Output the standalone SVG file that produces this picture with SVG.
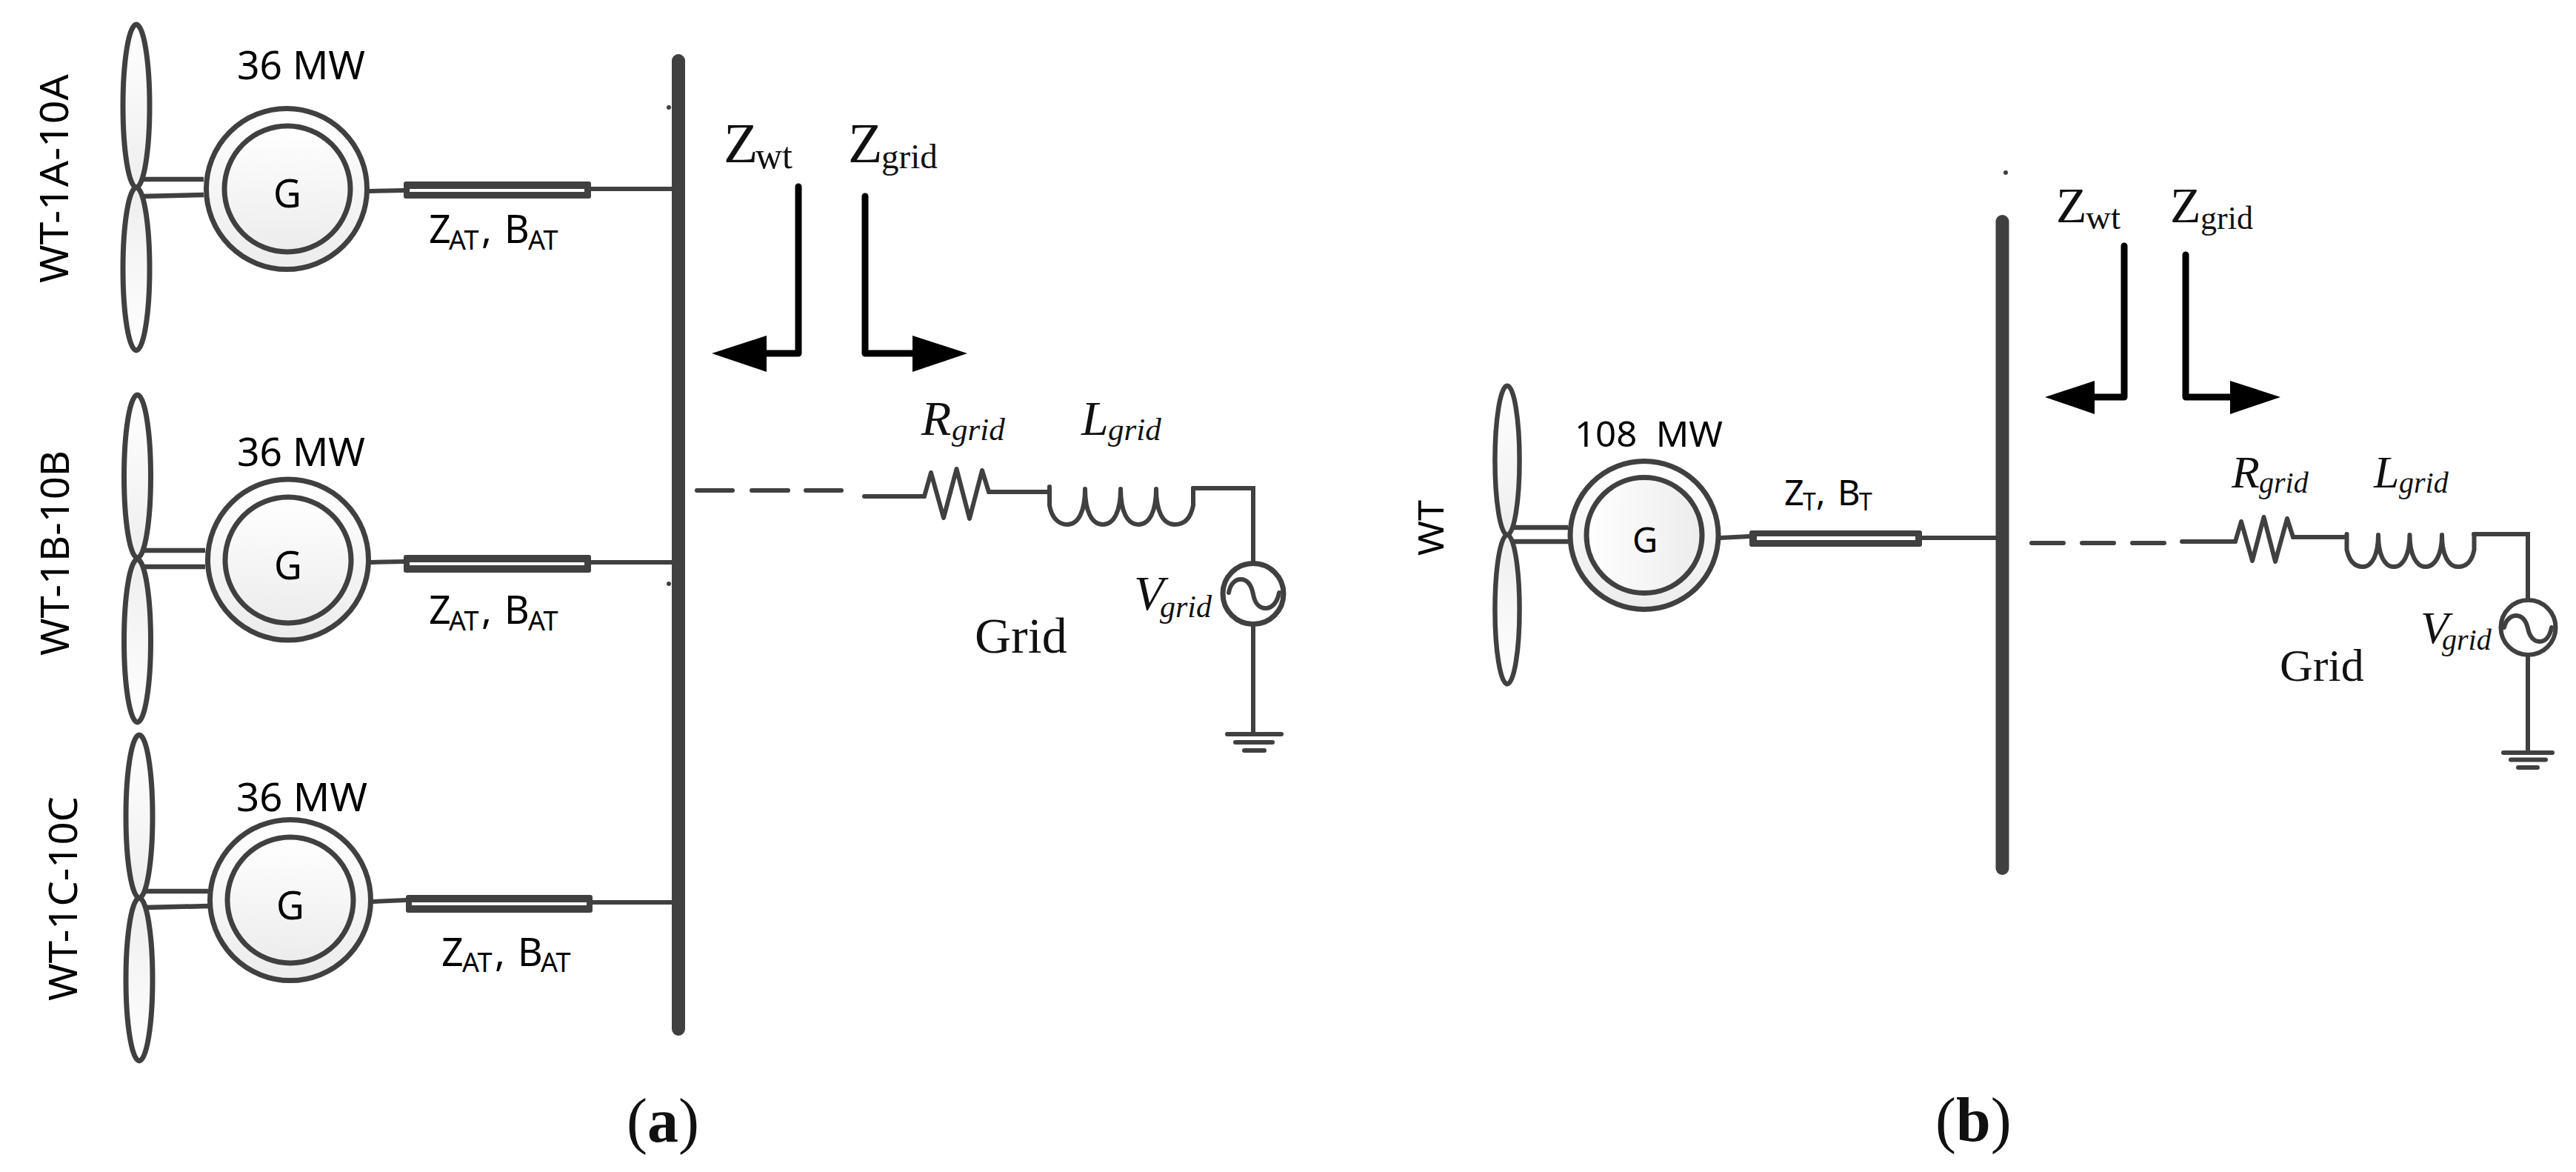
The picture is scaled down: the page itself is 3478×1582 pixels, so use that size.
<svg xmlns="http://www.w3.org/2000/svg" width="3478" height="1582" viewBox="0 0 3478 1582">
<style>
.s{fill:none;stroke:#404040;stroke-width:6;stroke-linejoin:round;stroke-linecap:round}
.d{fill:none;stroke:#404040;stroke-width:6;stroke-linecap:round}
.bus{fill:none;stroke:#404040;stroke-width:18;stroke-linecap:round}
.shaft{fill:none;stroke:#404040;stroke-width:6.5}
.rotor{fill:url(#gv);stroke:#404040;stroke-width:7}
.blade{fill:url(#gb);stroke:#404040;stroke-width:7}
.ink{fill:#404040}
.arrow{fill:none;stroke:#000;stroke-width:9;stroke-linejoin:round;stroke-linecap:round}
.tip{fill:#000}
.sans{font-family:"Noto Sans","Liberation Sans",sans-serif;fill:#000}
.serif{font-family:"Liberation Serif","Times New Roman",serif;fill:#111}
.it{font-style:italic}
.bold{font-weight:bold}
</style>
<defs>
<linearGradient id="gv" x1="0" y1="0" x2="0" y2="1"><stop offset="0" stop-color="#fff"/><stop offset="1" stop-color="#ececec"/></linearGradient>
<linearGradient id="gh" x1="0" y1="0" x2="1" y2="0"><stop offset="0" stop-color="#fff"/><stop offset="1" stop-color="#ececec"/></linearGradient>
<linearGradient id="gb" x1="0" y1="0" x2="0" y2="1"><stop offset="0" stop-color="#fff"/><stop offset="1" stop-color="#eee"/></linearGradient>
<ellipse id="blade" cx="0" cy="-110" rx="18" ry="110"/>
</defs>
<rect width="3478" height="1582" fill="#fff"/>

<g id="wt-1a">
<use href="#blade" class="blade" transform="translate(184 253)"/>
<use href="#blade" class="blade" transform="translate(184 253) scale(1 -1)"/>
<circle class="rotor" cx="387" cy="255" r="108.500"/><circle class="rotor" cx="388" cy="255" r="85"/>
<text class="sans" x="388" y="280" font-size="52" text-anchor="middle">G</text>
<text class="sans" x="320" y="107" font-size="52" textLength="173" lengthAdjust="spacingAndGlyphs">36 MW</text>
<text class="sans" transform="translate(92 382) rotate(-90)" font-size="52" textLength="282" lengthAdjust="spacingAndGlyphs">WT-1A-10A</text>
<rect class="ink" x="545" y="245" width="253" height="23" rx="3"/><rect x="553" y="255" width="236" height="4" fill="#fff"/>
<text class="sans" y="328" font-size="52"><tspan x="579">Z</tspan><tspan x="606" dy="9" font-size="36">AT</tspan><tspan x="650" dy="-9">, </tspan><tspan x="681">B</tspan><tspan x="713" dy="9" font-size="36">AT</tspan></text>
</g>

<g id="wt-1b">
<use href="#blade" class="blade" transform="translate(185.500 753)"/>
<use href="#blade" class="blade" transform="translate(185.500 755) scale(1 -1)"/>
<circle class="rotor" cx="389" cy="755.500" r="108.500"/><circle class="rotor" cx="389" cy="756" r="85"/>
<text class="sans" x="389" y="782" font-size="52" text-anchor="middle">G</text>
<text class="sans" x="320" y="629" font-size="52" textLength="173" lengthAdjust="spacingAndGlyphs">36 MW</text>
<text class="sans" transform="translate(93 885) rotate(-90)" font-size="52" textLength="277" lengthAdjust="spacingAndGlyphs">WT-1B-10B</text>
<rect class="ink" x="545" y="749" width="253" height="24" rx="3"/><rect x="553" y="759" width="236" height="4" fill="#fff"/>
<text class="sans" y="842" font-size="52"><tspan x="579">Z</tspan><tspan x="606" dy="9" font-size="36">AT</tspan><tspan x="650" dy="-9">, </tspan><tspan x="681">B</tspan><tspan x="713" dy="9" font-size="36">AT</tspan></text>
</g>

<g id="wt-1c">
<use href="#blade" class="blade" transform="translate(188 1212)"/>
<use href="#blade" class="blade" transform="translate(188 1212) scale(1 -1)"/>
<circle class="rotor" cx="392" cy="1215" r="108.500"/><circle class="rotor" cx="392" cy="1215" r="85"/>
<text class="sans" x="392" y="1241" font-size="52" text-anchor="middle">G</text>
<text class="sans" x="319" y="1095" font-size="52" textLength="177" lengthAdjust="spacingAndGlyphs">36 MW</text>
<text class="sans" transform="translate(104 1351) rotate(-90)" font-size="52" textLength="276" lengthAdjust="spacingAndGlyphs">WT-1C-10C</text>
<rect class="ink" x="548" y="1208" width="252" height="24" rx="3"/><rect x="556" y="1218" width="236" height="4" fill="#fff"/>
<text class="sans" y="1304" font-size="52"><tspan x="596">Z</tspan><tspan x="624" dy="8" font-size="36">AT</tspan><tspan x="668" dy="-8">, </tspan><tspan x="699">B</tspan><tspan x="730" dy="8" font-size="36">AT</tspan></text>
</g>

<g id="wt-b">
<use href="#blade" class="blade" transform="translate(2035 722) scale(.92 .915)"/>
<use href="#blade" class="blade" transform="translate(2035 722) scale(.92 -.915)"/>
<circle class="rotor" cx="2220" cy="722.500" r="100"/><circle cx="2220" cy="722.500" r="78" fill="url(#gh)" stroke="#404040" stroke-width="7"/>
<text class="sans" x="2221" y="746" font-size="47" text-anchor="middle">G</text>
<text class="sans" x="2126" y="603" font-size="47" textLength="200" lengthAdjust="spacingAndGlyphs" xml:space="preserve">108  MW</text>
<text class="sans" transform="translate(1949 750) rotate(-90)" font-size="47" textLength="75" lengthAdjust="spacingAndGlyphs">WT</text>
<rect class="ink" x="2362" y="716" width="233" height="22" rx="3"/><rect x="2372" y="724" width="214" height="5" fill="#fff"/>
<text class="sans" y="682" font-size="47"><tspan x="2409">Z</tspan><tspan x="2434" dy="7" font-size="32">T</tspan><tspan x="2452" dy="-7">, </tspan><tspan x="2481">B</tspan><tspan x="2510" dy="7" font-size="32">T</tspan></text>
</g>

<g id="connectors">
<path class="shaft" d="M192 242H275M192 265L275 263"/>
<path class="d" d="M499 258L545 257M798 255H907"/>
<path class="shaft" d="M194 743H277M194 765H277"/>
<path class="d" d="M501 759L545 758M798 759H907"/>
<path class="shaft" d="M196 1203H281M196 1225L281 1223"/>
<path class="d" d="M504 1217L548 1215M800 1218H907"/>
<path class="d" d="M941 662H989M1015 662H1064M1088 662H1136M1167 670H1248M1335 664H1417M1611 659H1692V758M1692 845V991"/>
<path class="shaft" d="M2042 712H2117M2042 731H2117"/>
<path class="d" d="M2323 726L2362 724M2595 726H2695"/>
<path class="d" d="M2743 733H2786M2811 733H2854M2879 733H2922M2946 731H3018M3096 725H3168M3340 721H3413V809M3413 886V1016"/>
<path class="arrow" d="M1078 252V477H1035"/><polygon class="tip" points="961,477 1035,453 1035,502"/>
<path class="arrow" d="M1168 265V477H1232"/><polygon class="tip" points="1306,477 1232,453 1232,502"/>
<path class="arrow" d="M2868 332V536H2828"/><polygon class="tip" points="2761,536 2828,514 2828,559"/>
<path class="arrow" d="M2951 344V536H3011"/><polygon class="tip" points="3079,536 3011,514 3011,559"/>
</g>

<g id="bus-a"><line class="bus" x1="916" y1="82" x2="916" y2="1389"/>
<circle class="ink" cx="903" cy="145" r="3"/><circle class="ink" cx="903" cy="788" r="3"/></g>
<g id="bus-b"><line class="bus" x1="2703.5" y1="299" x2="2703.5" y2="1172"/>
<circle class="ink" cx="2708" cy="233" r="3"/></g>

<g id="resistor-a"><path class="s" d="M1248 670L1257 638L1274 699L1291.500 633L1309 700L1326 635L1335 664"/>
<text class="serif it" y="587" font-size="66"><tspan x="1244">R</tspan><tspan x="1285" dy="7" font-size="43">grid</tspan></text></g>
<g id="inductor-a"><path class="s" d="M1417 657V682C1420 700 1430 708 1441 708C1456 708 1465 690 1465 660C1465 690 1474 708 1489 708C1504 708 1513 690 1513 660C1513 690 1522 708 1537 708C1552 708 1561 690 1561 660C1561 690 1570 708 1586 708C1600 708 1608 698 1611 682V659"/>
<text class="serif it" y="587" font-size="66"><tspan x="1460">L</tspan><tspan x="1496" dy="7" font-size="43">grid</tspan></text></g>
<g id="source-a"><circle cx="1692" cy="801.500" r="41" fill="#fff" stroke="#404040" stroke-width="7"/>
<path class="s" d="M1659 800C1661 788 1668 782 1675 782C1686 782 1690 792 1692 802C1694 814 1700 821 1709 821C1718 821 1725 812 1727 800"/>
<text class="serif it" y="823" font-size="66"><tspan x="1531">V</tspan><tspan x="1566" dy="10" font-size="42">grid</tspan></text></g>
<g id="ground-a"><path class="d" d="M1657 991H1730M1668 1002H1718M1680 1013H1707"/></g>
<g id="labels-a">
<text class="serif" y="219" font-size="76"><tspan x="977">Z</tspan><tspan x="1020" dy="8" font-size="50">wt</tspan></text>
<text class="serif" y="219" font-size="76"><tspan x="1145">Z</tspan><tspan x="1190" dy="8" font-size="47">grid</tspan></text>
<text class="serif" x="1316" y="881" font-size="68">Grid</text>
<text class="serif" x="846" y="1541" font-size="84" fill="#000">(<tspan class="bold">a</tspan>)</text>
</g>

<g id="resistor-b"><path class="s" d="M3018 731L3026 704L3041 757L3056.500 698L3072 758L3088 700L3096 725"/>
<text class="serif it" y="658" font-size="62"><tspan x="3013">R</tspan><tspan x="3050" dy="7" font-size="40">grid</tspan></text></g>
<g id="inductor-b"><path class="s" d="M3168.500 721V742C3172 758 3180 765 3190 765C3203 765 3211 748 3211 722C3211 748 3219 765 3232 765C3245 765 3253.500 748 3253.500 722C3253.500 748 3262 765 3275 765C3288 765 3297 748 3297 722C3297 748 3305 765 3319 765C3331 765 3338 756 3340.500 742V721"/>
<text class="serif it" y="658" font-size="62"><tspan x="3205">L</tspan><tspan x="3239" dy="7" font-size="40">grid</tspan></text></g>
<g id="source-b"><circle cx="3413.500" cy="847" r="37" fill="#fff" stroke="#404040" stroke-width="6"/>
<path class="s" d="M3381 847C3383 837 3390 831 3397 831C3407 831 3411 840 3413 848C3415 859 3421 866 3429 866C3438 866 3443 857 3445 847"/>
<text class="serif it" y="868" font-size="62"><tspan x="3268">V</tspan><tspan x="3297" dy="9" font-size="40">grid</tspan></text></g>
<g id="ground-b"><path class="d" d="M3380 1016H3446M3390 1025.500H3437M3400 1036H3426"/></g>
<g id="labels-b">
<text class="serif" y="300" font-size="68"><tspan x="2776">Z</tspan><tspan x="2816" dy="9" font-size="47">wt</tspan></text>
<text class="serif" y="300" font-size="68"><tspan x="2930">Z</tspan><tspan x="2971" dy="9" font-size="44">grid</tspan></text>
<text class="serif" x="3078" y="919" font-size="62">Grid</text>
<text class="serif" x="2613" y="1540" font-size="84" fill="#000">(<tspan class="bold">b</tspan>)</text>
</g>
</svg>
